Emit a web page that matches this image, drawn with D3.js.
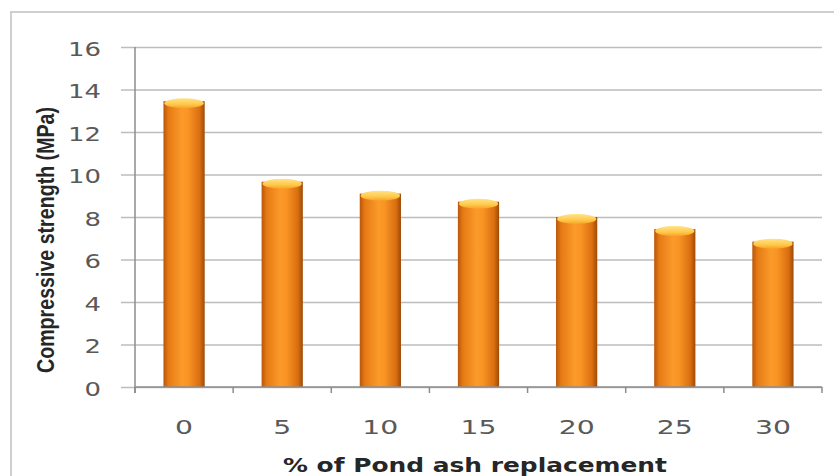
<!DOCTYPE html>
<html><head><meta charset="utf-8">
<script src="https://cdn.jsdelivr.net/npm/d3@7"></script>
<style>body{margin:0;background:#fff;}svg{display:block;}</style>
</head><body>
<svg id="c" width="834" height="476"></svg>
<script>
const categories = ["0","5","10","15","20","25","30"];
const strength = [13.45, 9.66, 9.1, 8.72, 8.0, 7.43, 6.84];
const yTicks = [0,2,4,6,8,10,12,14,16];
const xTitle = "% of Pond ash replacement";
const yTitle = "Compressive strength (MPa)";

const svg = d3.select("#c");
const W = 834, H = 476;
const m = {left:135, right:12, top:47, bottom:89};
const pw = W - m.left - m.right, ph = H - m.top - m.bottom;
const FONT = "DejaVu Sans, Verdana, sans-serif";

// outer frame
svg.append("path").attr("d", `M11,${H} L11,12 L${W},12`)
  .attr("fill","none").attr("stroke","#cfcfcf").attr("stroke-width",2);

const defs = svg.append("defs");
const g1 = defs.append("linearGradient").attr("id","bar").attr("x1","0").attr("x2","1").attr("y1","0").attr("y2","0");
[[0,"#b8560a"],[0.12,"#e57a14"],[0.45,"#fb9a2a"],[0.6,"#f99424"],[0.88,"#d96e10"],[1,"#9c4a08"]]
  .forEach(([o,c])=>g1.append("stop").attr("offset",o).attr("stop-color",c));
const g2 = defs.append("linearGradient").attr("id","cap").attr("x1","0").attr("x2","0").attr("y1","0").attr("y2","1");
[[0,"#ffe38a"],[0.6,"#ffc94a"],[1,"#f9a22a"]]
  .forEach(([o,c])=>g2.append("stop").attr("offset",o).attr("stop-color",c));

const x = d3.scaleBand().domain(categories).range([m.left, m.left+pw]).paddingInner(0.58).paddingOuter(0.29);
const xb = d3.scaleBand().domain(categories).range([m.left, m.left+pw]);
const y = d3.scaleLinear().domain([0,16]).range([m.top+ph, m.top]);

// gridlines + left ticks
const gy = svg.append("g").attr("transform",`translate(${m.left},0)`)
  .call(d3.axisLeft(y).tickValues(yTicks).tickSize(-pw).tickSizeOuter(0).tickPadding(34).tickFormat(d3.format("d")));
gy.select(".domain").remove();
gy.selectAll(".tick line").attr("stroke","#bdbdbd").attr("stroke-width",1.5).attr("x1",-14);
gy.selectAll(".tick text").attr("fill","#595959").attr("font-family",FONT).attr("font-size",20)
  .attr("dy","0.4em")
  .attr("textLength",d=>String(d).length*16.5).attr("lengthAdjust","spacingAndGlyphs");

// bars
const bars = svg.append("g");
categories.forEach((c,i)=>{
  const bx = x(c), bw = x.bandwidth(), top = y(strength[i]);
  bars.append("rect").attr("x",bx).attr("y",top).attr("width",bw).attr("height",y(0)-top).attr("fill","url(#bar)");
  bars.append("ellipse").attr("cx",bx+bw/2).attr("cy",top+2).attr("rx",bw/2-1).attr("ry",5).attr("fill","url(#cap)");
});

// x axis
const gx = svg.append("g").attr("transform",`translate(0,${y(0)})`);
gx.append("line").attr("x1",m.left).attr("x2",m.left+pw).attr("stroke","#8c8c8c").attr("stroke-width",1.5);
categories.concat(["end"]).forEach((c,i)=>{
  const tx = i<categories.length ? xb(c) : m.left+pw;
  gx.append("line").attr("x1",tx).attr("x2",tx).attr("y1",0).attr("y2",6).attr("stroke","#8c8c8c").attr("stroke-width",1.5);
});
gx.selectAll("text.xl").data(categories).join("text").attr("class","xl")
  .attr("x",d=>xb(d)+xb.bandwidth()/2).attr("y",47).attr("text-anchor","middle")
  .attr("fill","#595959").attr("font-family",FONT).attr("font-size",19)
  .attr("textLength",d=>d.length*18).attr("lengthAdjust","spacingAndGlyphs").text(d=>d);

// y axis line
svg.append("line").attr("x1",m.left).attr("x2",m.left).attr("y1",m.top).attr("y2",y(0)+6)
  .attr("stroke","#8c8c8c").attr("stroke-width",1.5);

// titles
svg.append("text").attr("x",475).attr("y",472).attr("text-anchor","middle")
  .attr("font-family",FONT).attr("font-weight","bold").attr("font-size",20)
  .attr("fill","#262626").attr("textLength",384).attr("lengthAdjust","spacingAndGlyphs").text(xTitle);
svg.append("text").attr("transform","translate(54,240) rotate(-90)").attr("text-anchor","middle")
  .attr("font-family","Liberation Sans Narrow, Arial Narrow, sans-serif").attr("font-weight","bold").attr("font-size",24)
  .attr("fill","#262626").attr("textLength",266).attr("lengthAdjust","spacingAndGlyphs").text(yTitle);
</script>
</body></html>
